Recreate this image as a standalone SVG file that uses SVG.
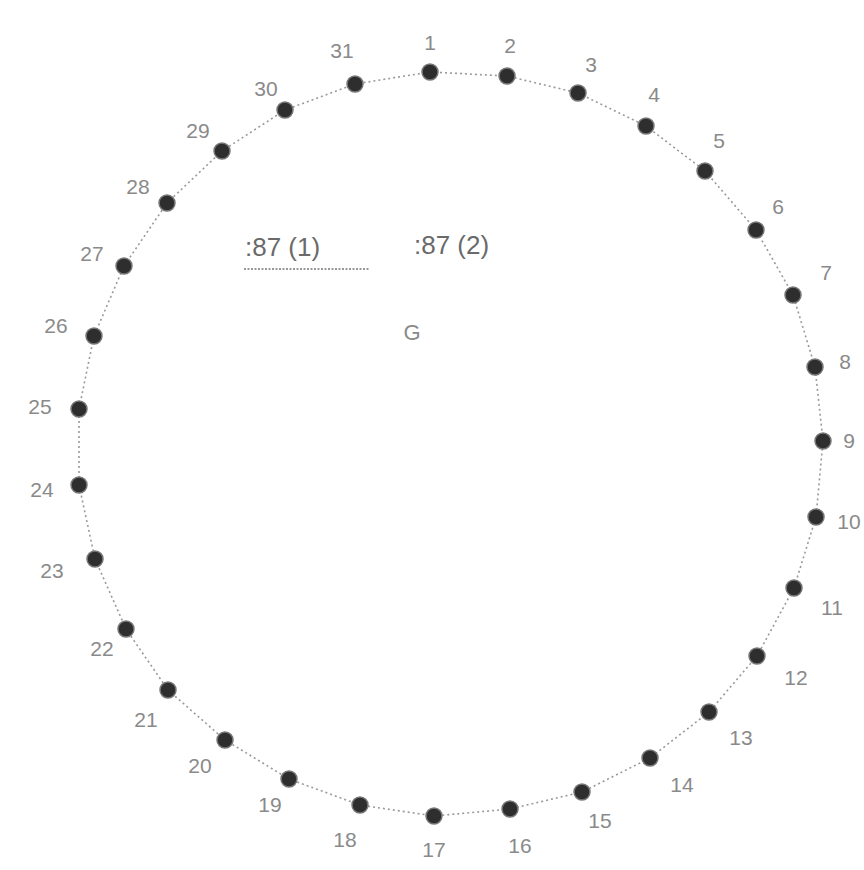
<svg xmlns="http://www.w3.org/2000/svg" width="864" height="870" viewBox="0 0 864 870">
<style>
.dot{fill:#2e2e2e;stroke:#777;stroke-width:1.5}
.lbl{font-family:"Liberation Sans",Arial,sans-serif;font-size:21px;fill:#8a8a8a;text-anchor:middle}
.big{font-family:"Liberation Sans",Arial,sans-serif;font-size:26px;fill:#6a6a6a}
.link{fill:none;stroke:#9a9a9a;stroke-width:1.6;stroke-dasharray:2 3}
</style>
<rect width="864" height="870" fill="#fff"/>
<g id="connectors">
<path class="link" d="M430,72 L507,76 L578,93 L646,126 L705,171 L756,230 L793,295 L815,367 L823,441 L816,517 L794,588 L757,656 L709,712 L650,758 L582,792 L510,809 L434,816 L360,805 L289,779 L225,740 L168,690 L126,629 L95,559 L79,485 L79,409 L94,336 L124,266 L167,203 L222,151 L285,110 L355,84 Z"/>
</g>
<g id="n1"><circle class="dot" cx="430" cy="72" r="8"/><text class="lbl" x="430" y="50">1</text></g>
<g id="n2"><circle class="dot" cx="507" cy="76" r="8"/><text class="lbl" x="510" y="53">2</text></g>
<g id="n3"><circle class="dot" cx="578" cy="93" r="8"/><text class="lbl" x="591" y="72">3</text></g>
<g id="n4"><circle class="dot" cx="646" cy="126" r="8"/><text class="lbl" x="654" y="102">4</text></g>
<g id="n5"><circle class="dot" cx="705" cy="171" r="8"/><text class="lbl" x="719" y="148">5</text></g>
<g id="n6"><circle class="dot" cx="756" cy="230" r="8"/><text class="lbl" x="778" y="214">6</text></g>
<g id="n7"><circle class="dot" cx="793" cy="295" r="8"/><text class="lbl" x="826" y="280">7</text></g>
<g id="n8"><circle class="dot" cx="815" cy="367" r="8"/><text class="lbl" x="845" y="369">8</text></g>
<g id="n9"><circle class="dot" cx="823" cy="441" r="8"/><text class="lbl" x="849" y="448">9</text></g>
<g id="n10"><circle class="dot" cx="816" cy="517" r="8"/><text class="lbl" x="849" y="529">10</text></g>
<g id="n11"><circle class="dot" cx="794" cy="588" r="8"/><text class="lbl" x="832" y="615">11</text></g>
<g id="n12"><circle class="dot" cx="757" cy="656" r="8"/><text class="lbl" x="796" y="685">12</text></g>
<g id="n13"><circle class="dot" cx="709" cy="712" r="8"/><text class="lbl" x="741" y="745">13</text></g>
<g id="n14"><circle class="dot" cx="650" cy="758" r="8"/><text class="lbl" x="682" y="792">14</text></g>
<g id="n15"><circle class="dot" cx="582" cy="792" r="8"/><text class="lbl" x="600" y="828">15</text></g>
<g id="n16"><circle class="dot" cx="510" cy="809" r="8"/><text class="lbl" x="520" y="853">16</text></g>
<g id="n17"><circle class="dot" cx="434" cy="816" r="8"/><text class="lbl" x="434" y="857">17</text></g>
<g id="n18"><circle class="dot" cx="360" cy="805" r="8"/><text class="lbl" x="345" y="847">18</text></g>
<g id="n19"><circle class="dot" cx="289" cy="779" r="8"/><text class="lbl" x="270" y="812">19</text></g>
<g id="n20"><circle class="dot" cx="225" cy="740" r="8"/><text class="lbl" x="200" y="773">20</text></g>
<g id="n21"><circle class="dot" cx="168" cy="690" r="8"/><text class="lbl" x="146" y="727">21</text></g>
<g id="n22"><circle class="dot" cx="126" cy="629" r="8"/><text class="lbl" x="102" y="656">22</text></g>
<g id="n23"><circle class="dot" cx="95" cy="559" r="8"/><text class="lbl" x="52" y="578">23</text></g>
<g id="n24"><circle class="dot" cx="79" cy="485" r="8"/><text class="lbl" x="42" y="497">24</text></g>
<g id="n25"><circle class="dot" cx="79" cy="409" r="8"/><text class="lbl" x="40" y="414">25</text></g>
<g id="n26"><circle class="dot" cx="94" cy="336" r="8"/><text class="lbl" x="56" y="333">26</text></g>
<g id="n27"><circle class="dot" cx="124" cy="266" r="8"/><text class="lbl" x="92" y="261">27</text></g>
<g id="n28"><circle class="dot" cx="167" cy="203" r="8"/><text class="lbl" x="138" y="194">28</text></g>
<g id="n29"><circle class="dot" cx="222" cy="151" r="8"/><text class="lbl" x="198" y="138">29</text></g>
<g id="n30"><circle class="dot" cx="285" cy="110" r="8"/><text class="lbl" x="266" y="96">30</text></g>
<g id="n31"><circle class="dot" cx="355" cy="84" r="8"/><text class="lbl" x="342" y="58">31</text></g>
<g id="title">
<text class="big" x="245" y="256">:87 (1)</text>
<line x1="244" y1="269" x2="370" y2="269" stroke="#777" stroke-width="1.6" stroke-dasharray="2 1.5"/>
<text class="big" x="414" y="254">:87 (2)</text>
<text class="lbl" x="412" y="340" style="font-size:22px">G</text>
</g>
</svg>
